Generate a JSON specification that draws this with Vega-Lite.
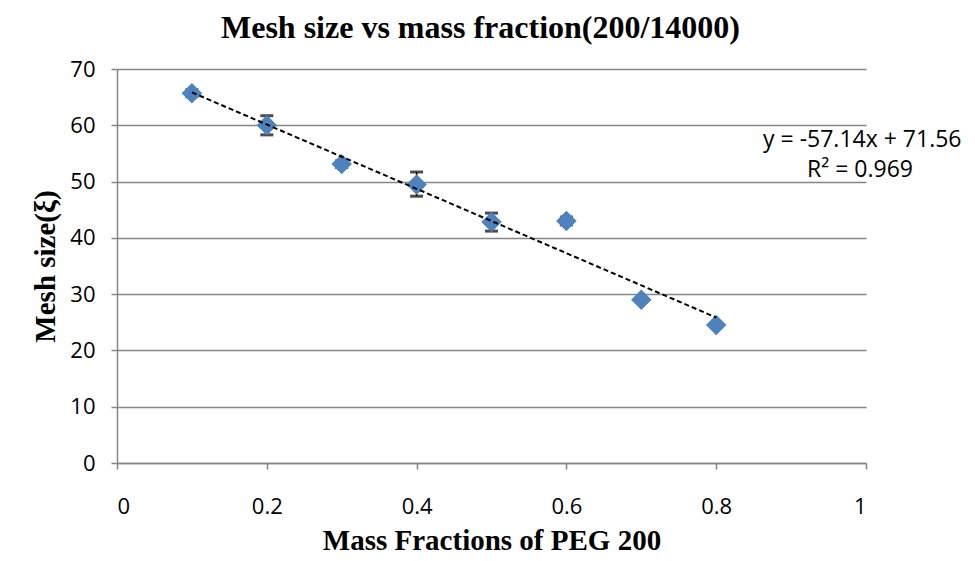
{
  "$schema": "https://vega.github.io/schema/vega-lite/v6.json",
  "autosize": "none",
  "width": 749,
  "height": 394,
  "padding": {"left": 117, "top": 69, "right": 109, "bottom": 98},
  "background": "white",
  "title": {
    "text": "Mesh size vs mass fraction(200/14000)",
    "font": "Liberation Serif",
    "fontSize": 32,
    "fontWeight": "bold",
    "color": "black",
    "anchor": "middle",
    "offset": 13,
    "dx": -11
  },
  "config": {
    "view": {"stroke": null}
  },
  "datasets": {
    "pts": [
      {"x": 0.1, "y": 65.7, "lo": 65.1, "hi": 66.3},
      {"x": 0.2, "y": 60.0, "lo": 58.3, "hi": 61.7},
      {"x": 0.3, "y": 53.1, "lo": 52.5, "hi": 53.7},
      {"x": 0.4, "y": 49.5, "lo": 47.4, "hi": 51.7},
      {"x": 0.5, "y": 42.8, "lo": 41.2, "hi": 44.4},
      {"x": 0.6, "y": 43.0, "lo": 42.3, "hi": 43.7},
      {"x": 0.7, "y": 29.0, "lo": 28.7, "hi": 29.3},
      {"x": 0.8, "y": 24.5, "lo": 24.2, "hi": 24.8}
    ],
    "trend": [
      {"x": 0.1, "y": 65.846},
      {"x": 0.8, "y": 25.848}
    ],
    "labels": [
      {"x": 0.995, "y": 57.4, "t": "y = -57.14x + 71.56"},
      {"x": 0.992, "y": 52.0, "t": "R² = 0.969"}
    ]
  },
  "layer": [
    {
      "data": {"name": "pts"},
      "mark": {"type": "rule", "color": "black", "strokeWidth": 1.5},
      "encoding": {
        "x": {"field": "x", "type": "quantitative", "scale": {"domain": [0, 1]},
          "axis": {"values": [0, 0.2, 0.4, 0.6, 0.8, 1], "grid": false, "title": "Mass Fractions of PEG 200", "format": "~g",
            "labelFont": "Open Sans", "labelFontSize": 22, "labelColor": "black", "labelPadding": 27,
            "titleFont": "Liberation Serif", "titleFontSize": 29, "titleFontWeight": "bold", "titleColor": "black", "titlePadding": 9,
            "domainColor": "#868686", "domainWidth": 1.5, "tickColor": "#868686", "tickWidth": 1.5, "tickSize": 6}},
        "y": {"field": "lo", "type": "quantitative", "scale": {"domain": [0, 70]},
          "axis": {"values": [0, 10, 20, 30, 40, 50, 60, 70], "grid": true, "title": "Mesh size(ξ)",
            "labelFont": "Open Sans", "labelFontSize": 22, "labelColor": "black", "labelPadding": 16,
            "titleFont": "Liberation Serif", "titleFontSize": 29, "titleFontWeight": "bold", "titleColor": "black", "titlePadding": 9,
            "domainColor": "#868686", "domainWidth": 1.5, "tickColor": "#868686", "tickWidth": 1.5, "tickSize": 6,
            "gridColor": "#868686", "gridWidth": 1.5}},
        "y2": {"field": "hi"}
      }
    },
    {
      "data": {"name": "pts"},
      "mark": {"type": "tick", "orient": "horizontal", "color": "black", "size": 13, "thickness": 3},
      "encoding": {
        "x": {"field": "x", "type": "quantitative"},
        "y": {"field": "lo", "type": "quantitative"}
      }
    },
    {
      "data": {"name": "pts"},
      "mark": {"type": "tick", "orient": "horizontal", "color": "black", "size": 13, "thickness": 3},
      "encoding": {
        "x": {"field": "x", "type": "quantitative"},
        "y": {"field": "hi", "type": "quantitative"}
      }
    },
    {
      "data": {"name": "pts"},
      "mark": {"type": "point", "shape": "diamond", "filled": true, "color": "#4F81BD", "opacity": 1, "size": 420},
      "encoding": {
        "x": {"field": "x", "type": "quantitative"},
        "y": {"field": "y", "type": "quantitative"}
      }
    },
    {
      "data": {"name": "trend"},
      "mark": {"type": "line", "color": "black", "strokeWidth": 2, "strokeDash": [5, 3]},
      "encoding": {
        "x": {"field": "x", "type": "quantitative"},
        "y": {"field": "y", "type": "quantitative"}
      }
    },
    {
      "data": {"name": "labels"},
      "mark": {"type": "text", "font": "Open Sans", "fontSize": 23, "color": "black", "align": "center", "baseline": "middle"},
      "encoding": {
        "x": {"field": "x", "type": "quantitative"},
        "y": {"field": "y", "type": "quantitative"},
        "text": {"field": "t"}
      }
    }
  ]
}
